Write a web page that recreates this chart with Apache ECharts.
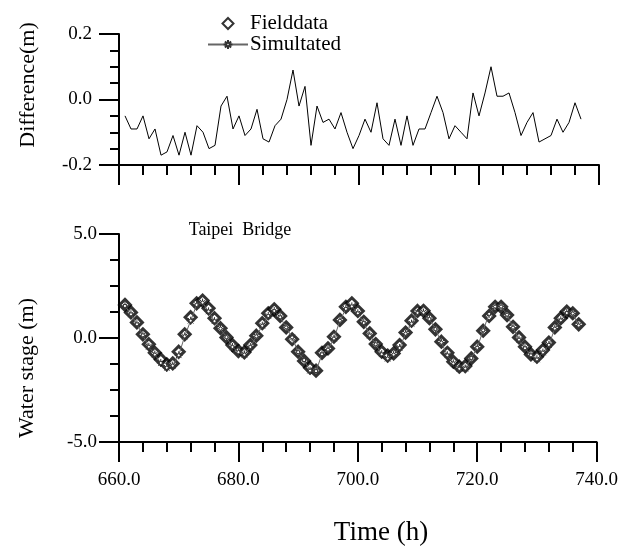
<!DOCTYPE html>
<html>
<head>
<meta charset="utf-8">
<script src="https://cdn.jsdelivr.net/npm/echarts@6/dist/echarts.min.js"></script>
<style>html,body{margin:0;padding:0;background:#fff;}#c{width:621px;height:550px;}</style>
</head>
<body>
<div id="c"></div>
<script>
// Time (h), hourly from 661 to 737
const hours = [661,662,663,664,665,666,667,668,669,670,671,672,673,674,675,676,677,678,679,680,
  681,682,683,684,685,686,687,688,689,690,691,692,693,694,695,696,697,698,699,700,
  701,702,703,704,705,706,707,708,709,710,711,712,713,714,715,716,717,718,719,720,
  721,722,723,724,725,726,727,728,729,730,731,732,733,734,735,736,737];

// Difference (m)
const difference = [-0.05,-0.09,-0.09,-0.05,-0.12,-0.09,-0.17,-0.16,-0.11,-0.17,
  -0.10,-0.17,-0.08,-0.10,-0.15,-0.14,-0.02,0.01,-0.09,-0.05,
  -0.11,-0.09,-0.03,-0.12,-0.13,-0.08,-0.06,0.00,0.09,-0.02,
  0.04,-0.14,-0.02,-0.07,-0.06,-0.09,-0.04,-0.10,-0.15,-0.11,
  -0.06,-0.10,-0.01,-0.12,-0.14,-0.06,-0.14,-0.05,-0.14,-0.09,
  -0.09,-0.04,0.01,-0.04,-0.12,-0.08,-0.10,-0.12,0.02,-0.05,
  0.02,0.10,0.01,0.01,0.02,-0.04,-0.11,-0.07,-0.04,-0.13,
  -0.12,-0.11,-0.06,-0.10,-0.07,-0.01,-0.06];

// Water stage (m) - field data
const fieldData = [1.59,1.23,0.75,0.18,-0.30,-0.71,-1.03,-1.27,-1.22,-0.66,
  0.18,1.00,1.67,1.80,1.43,0.95,0.47,0.03,-0.34,-0.63,
  -0.69,-0.34,0.11,0.71,1.19,1.38,1.06,0.51,-0.06,-0.66,
  -1.10,-1.43,-1.57,-0.71,-0.50,0.06,0.87,1.50,1.67,1.30,
  0.78,0.22,-0.29,-0.66,-0.85,-0.74,-0.34,0.26,0.83,1.30,
  1.31,0.95,0.42,-0.18,-0.71,-1.14,-1.38,-1.35,-0.98,-0.42,
  0.35,1.06,1.50,1.50,1.10,0.54,0.03,-0.42,-0.79,-0.90,
  -0.58,-0.22,0.51,0.95,1.27,1.19,0.66];

// Water stage (m) - simulated
const simulated = [1.54,1.14,0.66,0.13,-0.42,-0.80,-1.20,-1.43,-1.33,-0.83,
  0.08,0.83,1.59,1.70,1.28,0.81,0.45,0.04,-0.43,-0.68,
  -0.80,-0.43,0.08,0.59,1.06,1.30,1.00,0.51,0.03,-0.68,
  -1.06,-1.57,-1.59,-0.78,-0.56,-0.03,0.83,1.40,1.52,1.19,
  0.72,0.12,-0.30,-0.78,-0.99,-0.80,-0.48,0.21,0.69,1.21,
  1.22,0.91,0.43,-0.22,-0.83,-1.22,-1.48,-1.47,-0.96,-0.47,
  0.37,1.16,1.51,1.51,1.12,0.50,-0.08,-0.49,-0.83,-1.03,
  -0.70,-0.33,0.45,0.85,1.20,1.18,0.60];

const xTicks = [660, 680, 700, 720, 740];

const FONT = "'Liberation Serif', 'DejaVu Serif', serif";
const pair = (xs, ys) => xs.map((x, i) => [x, ys[i]]);

const starPath = 'path://M5,0L5,3M5,7L5,10M0,5L3,5M7,5L10,5M1.5,1.5L3.6,3.6M6.4,6.4L8.5,8.5M1.5,8.5L3.6,6.4M6.4,3.6L8.5,1.5M7,5A2,2,0,1,1,3,5A2,2,0,1,1,7,5Z';
const diamondPath = 'path://M5,0L10,5L5,10L0,5Z';

const axisLineStyle = { color: '#000', width: 2 };

function xAxisDef(gridIndex, showLabels) {
  return {
    type: 'value', gridIndex: gridIndex, min: xTicks[0], max: xTicks[xTicks.length - 1],
    interval: xTicks[1] - xTicks[0],
    axisLine: { show: true, onZero: false, lineStyle: axisLineStyle },
    axisTick: { show: true, inside: false, length: 20, lineStyle: { color: '#000', width: 2 } },
    minorTick: { show: true, splitNumber: 5, length: 10, lineStyle: { color: '#000', width: 2 } },
    splitLine: { show: false }, minorSplitLine: { show: false },
    axisLabel: { show: showLabels, margin: 29, fontFamily: FONT, fontSize: 19, color: '#000',
      formatter: v => v.toFixed(1) }
  };
}

const option = {
  animation: false,
  backgroundColor: '#fff',
  grid: [
    { left: 119, top: 34, width: 480, height: 131 },
    { left: 119, top: 234, width: 480, height: 208 }
  ],
  legend: {
    orient: 'vertical', left: 202, top: 8, itemWidth: 40, itemHeight: 11, itemGap: 0,
    symbolKeepAspect: true,
    textStyle: { fontFamily: FONT, fontSize: 21, color: '#000', padding: [0, 0, 0, -3], lineHeight: 21 },
    data: [
      { name: 'Fielddata', icon: diamondPath, itemStyle: { color: '#fff', borderColor: '#000', borderWidth: 2 } },
      { name: 'Simultated' }
    ]
  },
  xAxis: [ xAxisDef(0, false), xAxisDef(1, true) ],
  yAxis: [
    {
      type: 'value', gridIndex: 0, min: -0.2, max: 0.2, interval: 0.2,
      axisLine: { show: true, lineStyle: axisLineStyle },
      axisTick: { show: true, inside: false, length: 20, lineStyle: { color: '#000', width: 2 } },
      minorTick: { show: true, splitNumber: 4, length: 9, lineStyle: { color: '#000', width: 2 } },
      splitLine: { show: false }, minorSplitLine: { show: false },
      axisLabel: { margin: 27, fontFamily: FONT, fontSize: 19, color: '#000', formatter: v => v.toFixed(1) }
    },
    {
      type: 'value', gridIndex: 1, min: -5, max: 5, interval: 5,
      axisLine: { show: true, lineStyle: axisLineStyle },
      axisTick: { show: true, inside: false, length: 20, lineStyle: { color: '#000', width: 2 } },
      minorTick: { show: true, splitNumber: 4, length: 9, lineStyle: { color: '#000', width: 2 } },
      splitLine: { show: false }, minorSplitLine: { show: false },
      axisLabel: { margin: 22, fontFamily: FONT, fontSize: 19, color: '#000', formatter: v => v.toFixed(1) }
    }
  ],
  series: [
    {
      name: 'Difference', type: 'line', xAxisIndex: 0, yAxisIndex: 0,
      data: pair(hours, difference), showSymbol: false, symbol: 'none',
      lineStyle: { color: '#000', width: 1 }, z: 3
    },
    {
      name: 'Fielddata', type: 'scatter', xAxisIndex: 1, yAxisIndex: 1,
      data: pair(hours, fieldData), symbol: 'diamond', symbolSize: 11,
      itemStyle: { color: '#fff', borderColor: '#000', borderWidth: 3 }, z: 2
    },
    {
      name: 'Simultated', type: 'line', xAxisIndex: 1, yAxisIndex: 1,
      data: pair(hours, simulated), symbol: starPath, symbolSize: 8, showSymbol: true,
      lineStyle: { color: '#666', width: 1 },
      itemStyle: { color: '#fff', borderColor: '#333', borderWidth: 1 }, z: 4
    }
  ],
  graphic: [
    { type: 'text', x: 28, y: 85, rotation: Math.PI / 2,
      style: { text: 'Difference(m)', font: "22px " + FONT, fill: '#000', align: 'center', verticalAlign: 'middle' } },
    { type: 'text', x: 27, y: 368, rotation: Math.PI / 2,
      style: { text: 'Water stage (m)', font: "22px " + FONT, fill: '#000', align: 'center', verticalAlign: 'middle' } },
    { type: 'text', x: 381, y: 533,
      style: { text: 'Time (h)', font: "27px " + FONT, fill: '#000', align: 'center', verticalAlign: 'middle' } },
    { type: 'text', x: 240, y: 230,
      style: { text: 'Taipei  Bridge', font: "18px " + FONT, fill: '#000', align: 'center', verticalAlign: 'middle' } }
  ]
};

const chart = echarts.init(document.getElementById('c'), null, { renderer: 'canvas' });
chart.setOption(option);
</script>
</body>
</html>
